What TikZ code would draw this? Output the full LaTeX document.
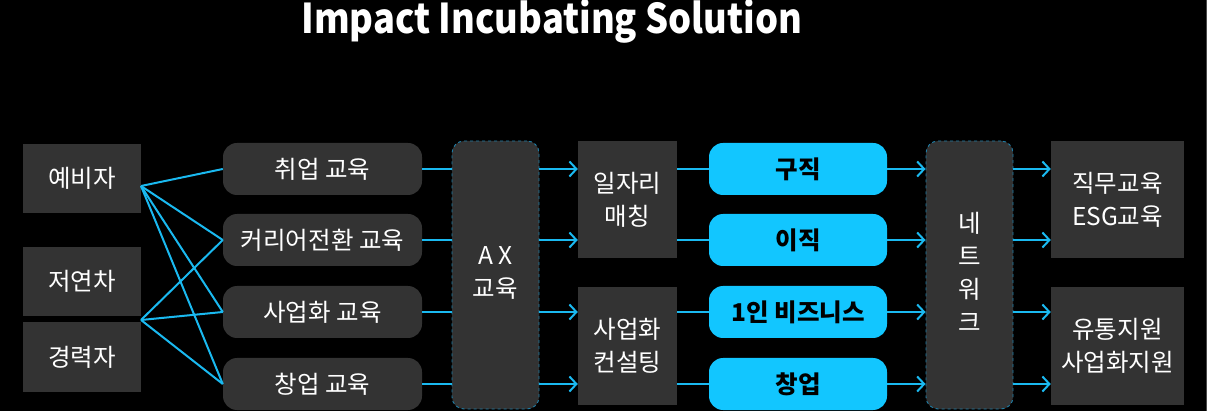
\documentclass[tikz,border=0pt]{standalone}
\usepackage{fontspec}
\setmainfont{Noto Sans CJK KR}
\usetikzlibrary{arrows.meta, calc}
\definecolor{boxFill}{HTML}{333333}
\definecolor{lineCyan}{HTML}{1AB9F0}
\definecolor{pillCyan}{HTML}{12C6FF}
\definecolor{dashTeal}{HTML}{1E7FA8}
\definecolor{edgeGrey}{HTML}{4A4A4A}
\def\rowA{169}
\def\rowB{240}
\def\rowC{312}
\def\rowD{384}

\begin{document}
\begin{tikzpicture}[
    x=1pt, y=-1pt,
    every node/.style={font=\fontsize{24.5}{33}\selectfont, text=white,
                       align=center, inner sep=0pt},
    plain/.style={fill=boxFill, minimum width=118pt},
    course/.style={fill=boxFill, rounded corners=14pt,
                   minimum width=199pt, minimum height=52pt},
    hub/.style={fill=boxFill, draw=dashTeal, dashed, line width=0.9pt,
                rounded corners=12pt, minimum width=87pt, minimum height=268pt},
    service/.style={fill=boxFill, minimum height=117pt},
    outcome/.style={fill=pillCyan, rounded corners=14pt, text=black,
                    font=\fontsize{24.5}{33}\selectfont\bfseries,
                    minimum width=178pt, minimum height=52pt},
    link/.style={draw=lineCyan, line width=2pt},
    arrow/.style={link, -{Straight Barb[length=7pt,width=15pt]}},
    ]

% ====================================================================
% Background and bounding box
% ====================================================================
\fill[black] (0,0) rectangle (1207,411);
\useasboundingbox (0,0) rectangle (1207,411);
\draw[edgeGrey, line width=1pt] (1206,0) -- (1206,411);

% Title
\node[font=\fontsize{41}{48}\selectfont\bfseries, anchor=base,
      text height=30pt, text depth=9pt] (title) at (552,33.5)
  {\scalebox{0.885}[1]{Impact Incubating Solution}};

% ====================================================================
% Target groups (left)
% ====================================================================
\node[plain, minimum height=69pt] (pre)    at (82,178.5) {예비자};
\node[plain, minimum height=69pt] (junior) at (82,281.5) {저연차};
\node[plain, minimum height=70pt] (career) at (82,357)   {경력자};

% ====================================================================
% Courses
% ====================================================================
\node[course] (eduJob)    at (322.5,\rowA) {취업 교육};
\node[course] (eduCareer) at (322.5,\rowB) {커리어전환 교육};
\node[course] (eduBiz)    at (322.5,\rowC) {사업화 교육};
\node[course] (eduStart)  at (322.5,\rowD) {창업 교육};

% AX hub
\node[hub] (ax) at (495.5,275) {};
\node at (495.5,272.5) {A X\\교육};

% Matching / consulting
\node[service, minimum width=99pt] (match)   at (627.5,199.5) {일자리\\매칭};
\node[service, minimum width=99pt] (consult) at (627.5,346)   {사업화\\컨설팅};

% Outcomes
\node[outcome] (outJob)    at (798,\rowA) {구직};
\node[outcome] (outMove)   at (798,\rowB) {이직};
\node[outcome] (outSolo)   at (798,\rowC) {1인 비즈니스};
\node[outcome] (outStart)  at (798,\rowD) {창업};

% Network hub
\node[hub] (net) at (969.5,275) {};
\node at (969.5,272) {네\\트\\워\\크};

% Support services (right)
\node[service, minimum width=133pt] (train)   at (1117.5,199.5) {직무교육\\ESG교육};
\node[service, minimum width=133pt] (support) at (1117.5,346)   {유통지원\\사업화지원};

% ====================================================================
% Connectors
% ====================================================================
\coordinate (preOut)    at (141,186);
\coordinate (careerOut) at (141,320);

\foreach \e in {eduJob, eduCareer, eduBiz, eduStart}{
    \draw[link] (preOut) -- (\e.west);
}
\foreach \e in {eduCareer, eduBiz, eduStart}{
    \draw[link] (careerOut) -- (\e.west);
}

% Courses into AX, AX out to services
\foreach \e/\s in {eduJob/match, eduCareer/match, eduBiz/consult, eduStart/consult}{
    \draw[link] (\e.east) -- (\e.east -| ax.west);
    \draw[arrow] (\e.east -| ax.east) -- (\e.east -| \s.west);
}

% Services to outcomes, outcomes into network, network to support
\foreach \o/\s/\t in {outJob/match/train, outMove/match/train,
                      outSolo/consult/support, outStart/consult/support}{
    \draw[link] (\o.west -| \s.east) -- (\o.west);
    \draw[arrow] (\o.east) -- (\o.east -| net.west);
    \draw[arrow] (\o.east -| net.east) -- (\o.east -| \t.west);
}

\end{tikzpicture}
\end{document}
